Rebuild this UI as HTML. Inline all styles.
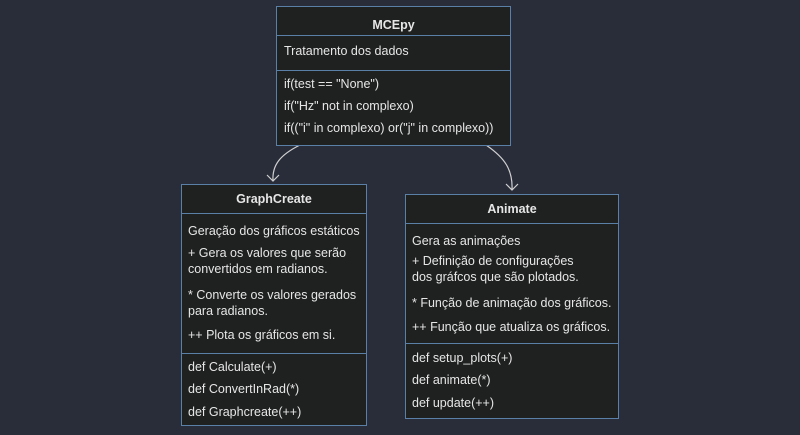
<!DOCTYPE html>
<html><head><style>
body{margin:0;width:800px;height:435px;background:#292d3a;font-family:"Liberation Sans",sans-serif;font-size:12.5px;color:#e6e6e6;position:relative;overflow:hidden}
.b{position:absolute;background:#1f2020;border:1px solid #5a80a8;box-sizing:border-box}
.t{position:absolute;white-space:nowrap;line-height:16px}
.h{position:absolute;left:0;right:0;border-top:1px solid #5a80a8}
.c{left:0;right:0;text-align:center;font-weight:bold}
</style></head><body>
<svg width="800" height="435" style="position:absolute;left:0;top:0">
<g fill="none" stroke="#d0d0d0" stroke-width="1.2">
<path d="M300 145 C280 155 272 165 273 181"/>
<path d="M267 175 L273 181 L279 175"/>
<path d="M486 145 C505 158 513 170 512 190"/>
<path d="M506 184 L512 190 L518 184"/>
</g></svg>
<div class="b" style="left:276px;top:6px;width:235px;height:140px">
<div class="t c" style="top:10px">MCEpy</div>
<div class="h" style="top:28px"></div>
<div class="t" style="left:7px;top:36px">Tratamento dos dados</div>
<div class="h" style="top:63px"></div>
<div class="t" style="left:7px;top:69px">if(test == "None")</div>
<div class="t" style="left:7px;top:91px">if("Hz" not in complexo)</div>
<div class="t" style="left:7px;top:113px">if(("i" in complexo) or("j" in complexo))</div>
</div>
<div class="b" style="left:181px;top:184px;width:186px;height:242px">
<div class="t c" style="top:6px">GraphCreate</div>
<div class="h" style="top:28px"></div>
<div class="t" style="left:6px;top:38px">Geração dos gráficos estáticos</div>
<div class="t" style="left:6px;top:60px">+ Gera os valores que serão<br>convertidos em radianos.</div>
<div class="t" style="left:6px;top:102px">* Converte os valores gerados<br>para radianos.</div>
<div class="t" style="left:6px;top:142px">++ Plota os gráficos em si.</div>
<div class="h" style="top:168px"></div>
<div class="t" style="left:6px;top:174px">def Calculate(+)</div>
<div class="t" style="left:6px;top:196px">def ConvertInRad(*)</div>
<div class="t" style="left:6px;top:219px">def Graphcreate(++)</div>
</div>
<div class="b" style="left:405px;top:194px;width:214px;height:225px">
<div class="t c" style="top:6px">Animate</div>
<div class="h" style="top:28px"></div>
<div class="t" style="left:6px;top:38px">Gera as animações</div>
<div class="t" style="left:6px;top:58px">+ Definição de configurações<br>dos gráfcos que são plotados.</div>
<div class="t" style="left:6px;top:100px">* Função de animação dos gráficos.</div>
<div class="t" style="left:6px;top:124px">++ Função que atualiza os gráficos.</div>
<div class="h" style="top:148px"></div>
<div class="t" style="left:6px;top:155px">def setup_plots(+)</div>
<div class="t" style="left:6px;top:177px">def animate(*)</div>
<div class="t" style="left:6px;top:200px">def update(++)</div>
</div>
</body></html>
